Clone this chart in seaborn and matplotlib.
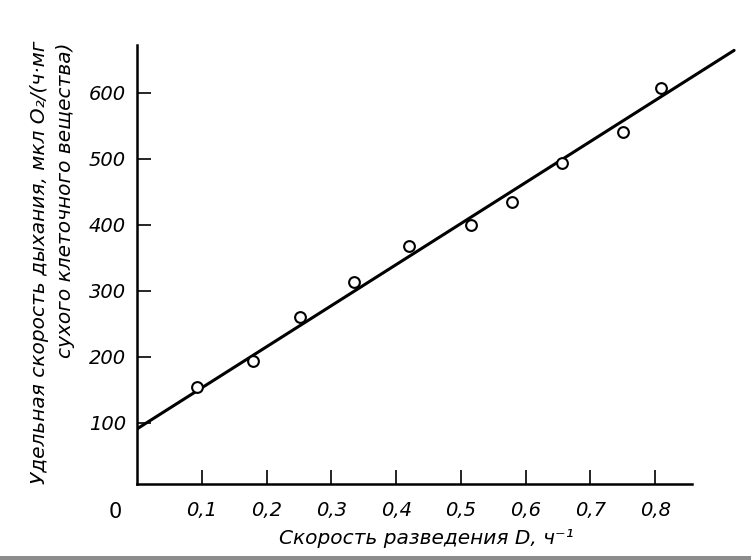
import matplotlib
matplotlib.use("Agg")
import matplotlib.pyplot as plt
import seaborn as sns
from matplotlib.patches import Rectangle

# Data
dilution_rate = [0.093, 0.179, 0.252, 0.335, 0.420, 0.515, 0.579, 0.656, 0.750, 0.809]
respiration = [155, 194, 261, 314, 368, 400, 435, 493, 541, 607]

# fitted line endpoints
fit_x = [0.0, 0.922]
fit_y = [91, 664]

x_ticks = [0.1, 0.2, 0.3, 0.4, 0.5, 0.6, 0.7, 0.8]
x_tick_labels = ["0,1", "0,2", "0,3", "0,4", "0,5", "0,6", "0,7", "0,8"]
y_ticks = [100, 200, 300, 400, 500, 600]
y_tick_labels = ["100", "200", "300", "400", "500", "600"]

sns.set_style("ticks")
plt.rcParams["font.family"] = ["DejaVu Sans"]
plt.rcParams["text.color"] = "black"
plt.rcParams["axes.edgecolor"] = "black"
plt.rcParams["xtick.color"] = "black"
plt.rcParams["ytick.color"] = "black"

fig = plt.figure(figsize=(7.51, 5.6), dpi=100)
ax = fig.add_axes([0.1824, 0.135, 0.802, 0.7845])

sns.lineplot(x=fit_x, y=fit_y, color="black", linewidth=2.2, ax=ax)
sns.scatterplot(x=dilution_rate, y=respiration, marker="o", s=60,
                color="white", edgecolor="black", linewidth=1.5, zorder=3, ax=ax)

ax.set_xlim(0, 0.93)
ax.set_ylim(7, 672)

ax.spines["top"].set_visible(False)
ax.spines["right"].set_visible(False)
ax.spines["left"].set_linewidth(1.8)
ax.spines["bottom"].set_linewidth(1.8)
ax.spines["bottom"].set_bounds(0, 0.857)

ax.set_xticks(x_ticks)
ax.set_xticklabels(x_tick_labels, fontsize=14, style="italic")
ax.set_yticks(y_ticks)
ax.set_yticklabels(y_tick_labels, fontsize=14, style="italic")
ax.tick_params(axis="both", direction="in", length=10, width=1.2, color="black",
               labelcolor="black")
ax.tick_params(axis="x", pad=12)
ax.tick_params(axis="y", pad=8)

# origin label
fig.text(115 / 751, 1 - 512 / 560, "0", ha="center", va="center", fontsize=15)

# axis titles
fig.text(426 / 751, 1 - 539 / 560, "Скорость разведения D, ч⁻¹",
         ha="center", va="center", fontsize=14.5, style="italic")
fig.text(40 / 751, 1 - 262 / 560, "Удельная скорость дыхания, мкл O₂/(ч·мг",
         ha="center", va="center", rotation=90, fontsize=14.5, style="italic")
fig.text(66 / 751, 1 - 200 / 560, "сухого клеточного вещества)",
         ha="center", va="center", rotation=90, fontsize=14.5, style="italic")

# grey scan border at the bottom
fig.add_artist(Rectangle((0, 0), 1, 4 / 560, transform=fig.transFigure,
                         color="#8c8c8c", linewidth=0))

fig.savefig("out.png", dpi=100)
